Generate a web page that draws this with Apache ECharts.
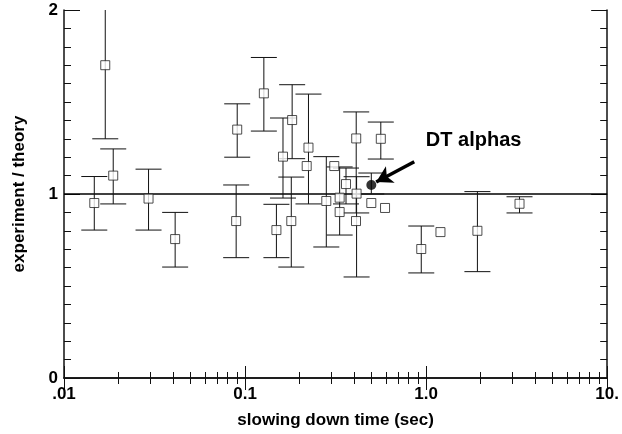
<!DOCTYPE html>
<html><head><meta charset="utf-8">
<script src="https://cdn.jsdelivr.net/npm/echarts@6/dist/echarts.min.js"></script>
<style>html,body{margin:0;padding:0;background:#fff}#c{width:622px;height:434px}</style>
</head><body><div id="c"></div>
<script>
// [time, ratio, errLow, errHigh] (null = no error bar)
const openPoints = [
  [0.0147,0.951,0.804,1.095],
  [0.0169,1.70,1.30,2.2],
  [0.0187,1.10,0.946,1.245],
  [0.0293,0.975,0.804,1.135],
  [0.0411,0.755,0.603,0.90],
  [0.0905,1.35,1.20,1.49],
  [0.0893,0.853,0.654,1.049],
  [0.127,1.547,1.342,1.742],
  [0.149,0.804,0.654,0.944],
  [0.162,1.203,0.978,1.413],
  [0.182,1.402,1.192,1.594],
  [0.180,0.853,0.603,1.092],
  [0.224,1.252,0.946,1.543],
  [0.219,1.152,null,null],
  [0.281,0.962,0.712,1.203],
  [0.311,1.152,null,null],
  [0.333,0.98,0.777,1.147],
  [0.333,0.902,null,null],
  [0.361,1.054,0.946,1.141],
  [0.411,1.302,0.897,1.446],
  [0.413,1.002,0.549,1.094],
  [0.410,0.853,null,null],
  [0.498,0.951,null,null],
  [0.562,1.30,1.19,1.391],
  [0.593,0.924,null,null],
  [0.94,0.701,0.571,0.826],
  [1.2,0.793,null,null],
  [1.92,0.80,0.578,1.013],
  [3.28,0.947,0.897,0.985]
];
const dtPoint = [[0.498,1.049,1.0,1.114]];
const xTickLabels = {'0.01':'.01','0.1':'0.1','1':'1.0','10':'10.'};
const annotation = {text:'DT alphas', textAt:[1.83,1.29], arrowFrom:[0.86,1.175], arrowTo:[0.53,1.065]};

const chart = echarts.init(document.getElementById('c'));
const fnt = 'Liberation Sans';
function errSeries(data){
  return {type:'custom', data:data.filter(d=>d[2]!=null).map(d=>[d[0],d[2],d[3]]),
    renderItem(p,api){
      const x=api.value(0), lo=api.coord([x,api.value(1)]), hi=api.coord([x,api.value(2)]);
      const w=13, st={stroke:'#111',lineWidth:1};
      return {type:'group',children:[
        {type:'line',shape:{x1:lo[0],y1:lo[1],x2:hi[0],y2:hi[1]},style:st},
        {type:'line',shape:{x1:lo[0]-w,y1:lo[1],x2:lo[0]+w,y2:lo[1]},style:st},
        {type:'line',shape:{x1:hi[0]-w,y1:hi[1],x2:hi[0]+w,y2:hi[1]},style:st}]};
    }, z:2, silent:true, clip:true};
}
const axisCommon = {axisLine:{lineStyle:{color:'#111',width:1.5}},splitLine:{show:false}};
chart.setOption({
  animation:false,
  grid:{left:64,right:6,top:10,bottom:56},
  xAxis:[{type:'log',min:0.01,max:10,logBase:10,...axisCommon,
    axisTick:{inside:true,length:12},minorTick:{show:true,splitNumber:9,length:6,lineStyle:{color:'#111'}},
    axisLabel:{formatter:v=>xTickLabels[String(+v.toPrecision(3))]||'',color:'#000',fontSize:17,fontWeight:'bold',fontFamily:fnt,margin:8},
    name:'slowing down time (sec)',nameLocation:'middle',nameGap:34,
    nameTextStyle:{fontSize:17,fontWeight:'bold',fontFamily:fnt,color:'#000'}},
   {type:'log',min:0.01,max:10,position:'top',...axisCommon,axisLabel:{show:false},
    axisTick:{inside:true,length:12},minorTick:{show:true,splitNumber:9,length:6,lineStyle:{color:'#111'}}}],
  yAxis:[{type:'value',min:0,max:2,interval:1,...axisCommon,
    axisTick:{inside:true,length:16},minorTick:{show:true,splitNumber:10,length:7,lineStyle:{color:'#111'}},
    axisLabel:{color:'#000',fontSize:17,fontWeight:'bold',fontFamily:fnt,margin:6},
    name:'experiment / theory',nameLocation:'middle',nameGap:36,
    nameTextStyle:{fontSize:17,fontWeight:'bold',fontFamily:fnt,color:'#000'}},
   {type:'value',min:0,max:2,interval:1,position:'right',...axisCommon,axisLabel:{show:false},
    axisTick:{inside:true,length:16},minorTick:{show:true,splitNumber:10,length:7,lineStyle:{color:'#111'}}}],
  series:[
    errSeries(openPoints), errSeries(dtPoint),
    {type:'line',data:[[0.01,1],[10,1]],symbol:'none',lineStyle:{color:'#000',width:1.5},z:1,silent:true},
    {type:'scatter',data:openPoints.map(d=>[d[0],d[1]]),symbol:'rect',symbolSize:9,
     itemStyle:{color:'#fff',borderColor:'#222',borderWidth:1},z:3},
    {type:'scatter',data:dtPoint.map(d=>[d[0],d[1]]),symbol:'circle',symbolSize:10,
     itemStyle:{color:'#000'},z:4,
     markLine:{silent:true,symbol:['none','arrow'],symbolSize:[14,16],label:{show:false},
       lineStyle:{color:'#000',width:3.5,type:'solid'},
       data:[[{coord:annotation.arrowFrom},{coord:annotation.arrowTo}]]},
     markPoint:{symbol:'circle',symbolSize:1,itemStyle:{color:'transparent'},
       label:{show:true,formatter:annotation.text,position:'inside',color:'#000',fontSize:20,fontWeight:'bold',fontFamily:fnt},
       data:[{coord:annotation.textAt}]}}
  ]
});
</script></body></html>
